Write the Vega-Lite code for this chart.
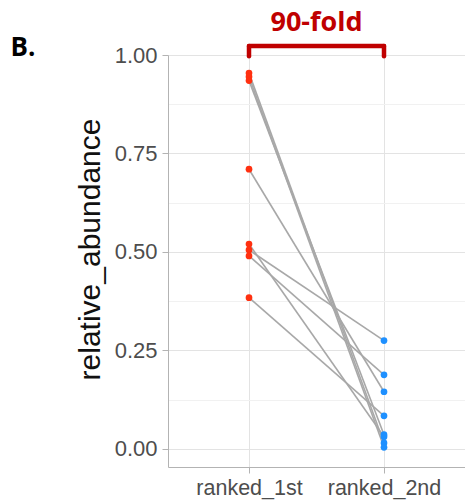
{
  "$schema": "https://vega.github.io/schema/vega-lite/v6.json",
  "autosize": {"type": "none"},
  "width": 297,
  "height": 412,
  "padding": {"left": 168, "top": 55, "right": 0, "bottom": 33},
  "background": "white",
  "title": {
    "text": "90-fold",
    "anchor": "middle",
    "frame": "group",
    "font": "Open Sans",
    "fontWeight": "bold",
    "fontSize": 27,
    "color": "#c00000",
    "offset": -3
  },
  "config": {
    "view": {"stroke": null},
    "axis": {
      "labelFont": "Liberation Sans",
      "titleFont": "Liberation Sans",
      "labelColor": "#4d4d4d",
      "tickColor": "#b3b3b3",
      "domainColor": "#b3b3b3",
      "gridColor": "#e3e3e3",
      "gridWidth": 1
    }
  },
  "datasets": {
    "main": [
      {"pair": "A", "rank": "ranked_1st", "value": 0.954},
      {"pair": "A", "rank": "ranked_2nd", "value": 0.015},
      {"pair": "B", "rank": "ranked_1st", "value": 0.945},
      {"pair": "B", "rank": "ranked_2nd", "value": 0.004},
      {"pair": "C", "rank": "ranked_1st", "value": 0.935},
      {"pair": "C", "rank": "ranked_2nd", "value": 0.036},
      {"pair": "D", "rank": "ranked_1st", "value": 0.71},
      {"pair": "D", "rank": "ranked_2nd", "value": 0.145},
      {"pair": "E", "rank": "ranked_1st", "value": 0.52},
      {"pair": "E", "rank": "ranked_2nd", "value": 0.031},
      {"pair": "F", "rank": "ranked_1st", "value": 0.505},
      {"pair": "F", "rank": "ranked_2nd", "value": 0.275},
      {"pair": "G", "rank": "ranked_1st", "value": 0.49},
      {"pair": "G", "rank": "ranked_2nd", "value": 0.188},
      {"pair": "H", "rank": "ranked_1st", "value": 0.384},
      {"pair": "H", "rank": "ranked_2nd", "value": 0.084}
    ]
  },
  "resolve": {"axis": {"x": "independent", "y": "independent"}},
  "layer": [
    {
      "data": {"name": "main"},
      "mark": {"type": "line", "color": "#a8a8a8", "strokeWidth": 1.6},
      "encoding": {
        "x": {
          "field": "rank", "type": "nominal",
          "scale": {"type": "point", "padding": 0.6, "domain": ["ranked_1st", "ranked_2nd"]},
          "axis": {
            "title": null, "labelAngle": 0, "labelFontSize": 21.5, "labelPadding": 4,
            "tickSize": 6, "grid": true, "domain": true
          }
        },
        "y": {
          "field": "value", "type": "quantitative",
          "scale": {"domain": [-0.046, 1.0], "nice": false, "zero": false},
          "axis": {
            "title": "relative_abundance", "titleFontSize": 30, "titleFontWeight": "normal",
            "titleColor": "#111111", "titlePadding": 9, "titleY": 194,
            "values": [0, 0.25, 0.5, 0.75, 1], "format": ".2f",
            "labelFontSize": 22, "labelPadding": 5, "tickSize": 6, "grid": true, "domain": true
          }
        },
        "detail": {"field": "pair"}
      }
    },
    {
      "data": {"name": "main"},
      "mark": {"type": "point", "filled": true, "opacity": 1, "size": 45},
      "encoding": {
        "x": {"field": "rank", "type": "nominal", "axis": null},
        "y": {"field": "value", "type": "quantitative", "axis": null},
        "color": {
          "field": "rank", "type": "nominal",
          "scale": {"domain": ["ranked_1st", "ranked_2nd"], "range": ["#ff3010", "#1e90ff"]},
          "legend": null
        }
      }
    },
    {
      "data": {"values": [{"label": "90-fold"}]},
      "mark": {"type": "rule", "color": "#c00000", "strokeWidth": 4.5, "strokeCap": "round"},
      "encoding": {
        "x": {
          "datum": "ranked_1st", "type": "nominal",
          "axis": {
            "orient": "top", "labels": false, "ticks": false, "domain": false, "grid": false,
            "title": "B.", "titleFont": "Open Sans", "titleFontWeight": "bold", "titleFontSize": 26,
            "titleColor": "#000000", "titleAlign": "left", "titleBaseline": "alphabetic",
            "titleAngle": 0, "titleX": -158, "titleY": 0
          }
        },
        "x2": {"datum": "ranked_2nd"},
        "y": {
          "datum": 1.023, "type": "quantitative",
          "axis": {
            "orient": "right", "labels": false, "ticks": false, "domain": false, "title": null,
            "grid": true, "gridColor": "#f1f1f1", "values": [0.125, 0.375, 0.625, 0.875]
          }
        }
      }
    },
    {
      "data": {"values": [{"rank": "ranked_1st"}, {"rank": "ranked_2nd"}]},
      "mark": {"type": "rule", "color": "#c00000", "strokeWidth": 4.5, "strokeCap": "round"},
      "encoding": {
        "x": {"field": "rank", "type": "nominal", "axis": null},
        "y": {"datum": 0.997, "type": "quantitative", "axis": null},
        "y2": {"datum": 1.023}
      }
    }
  ]
}
